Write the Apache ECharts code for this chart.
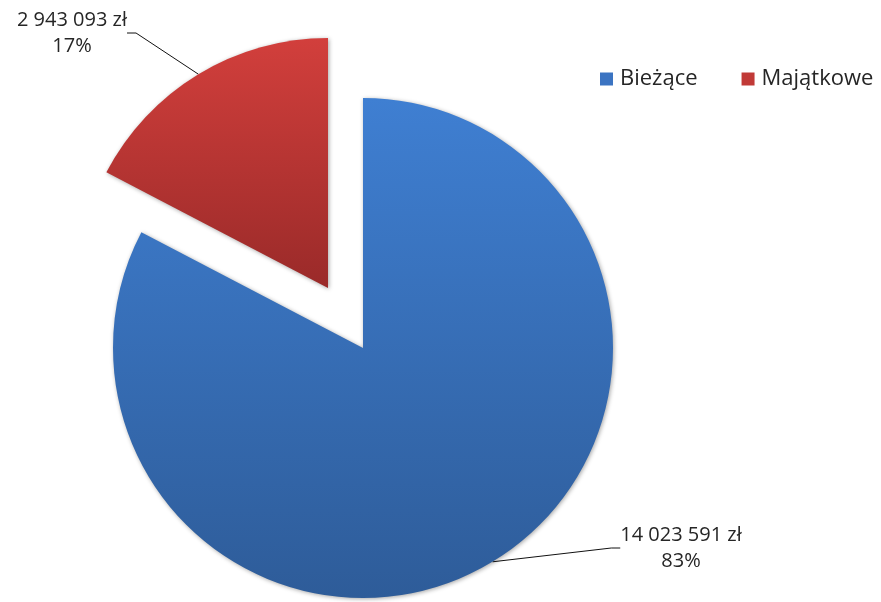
<!DOCTYPE html>
<html>
<head>
<meta charset="utf-8">
<script src="https://cdn.jsdelivr.net/npm/echarts@6/dist/echarts.min.js"></script>
<style>
html,body{margin:0;padding:0;background:#fff;}
#c{width:881px;height:602px;}
</style>
</head>
<body>
<div id="c"></div>
<script>
const categories = ['Bieżące', 'Majątkowe'];
const values = [14023591, 2943093];
const valueLabels = ['14 023 591 zł', '2 943 093 zł'];
const percentLabels = ['83%', '17%'];

const fills = [
  new echarts.graphic.LinearGradient(0, 0, 0, 1, [
    { offset: 0, color: '#3f7fd2' },
    { offset: 1, color: '#2e5c99' }
  ]),
  new echarts.graphic.LinearGradient(0, 0, 0, 1, [
    { offset: 0, color: '#d23f3c' },
    { offset: 1, color: '#9a2a29' }
  ])
];
const legendColors = ['#3b74c2', '#c13a37'];
const labelPos = [[681, 548], [72, 33]];
// explode offset for the second slice (drawn as its own pie layer)
const centers = [[363, 348], [328, 288]];

function layer(k) {
  return {
    type: 'pie',
    center: centers[k],
    radius: 250,
    startAngle: 90,
    clockwise: true,
    silent: true,
    emphasis: { disabled: true },
    label: {
      fontFamily: 'Open Sans',
      fontSize: 20,
      lineHeight: 26,
      color: '#262626',
      align: 'center',
      formatter: p => valueLabels[p.dataIndex] + '\n' + percentLabels[p.dataIndex]
    },
    labelLine: {
      length: 20,
      length2: 9,
      lineStyle: { color: '#111', width: 1 }
    },
    labelLayout: p => ({
      x: labelPos[p.dataIndex][0],
      y: labelPos[p.dataIndex][1],
      align: 'center',
      verticalAlign: 'middle'
    }),
    data: categories.map((c, i) => {
      const on = i === k;
      return {
        name: c,
        value: values[i],
        itemStyle: on
          ? { color: fills[i], shadowBlur: 4, shadowColor: 'rgba(0,0,0,0.35)', shadowOffsetX: 1, shadowOffsetY: 1 }
          : { color: 'rgba(0,0,0,0)' },
        label: { show: on, position: 'outside' },
        labelLine: { show: on }
      };
    })
  };
}

const chart = echarts.init(document.getElementById('c'));
chart.setOption({
  animation: false,
  legend: {
    data: categories.map((c, i) => ({ name: c, itemStyle: { color: legendColors[i] } })),
    top: 68,
    left: 600,
    width: 281,
    padding: 0,
    icon: 'rect',
    itemWidth: 13,
    itemHeight: 13,
    itemGap: 44,
    selectedMode: false,
    textStyle: { fontFamily: 'Open Sans', fontSize: 22, color: '#262626', padding: [0, 0, 0, 2] }
  },
  series: [layer(0), layer(1)]
});
</script>
</body>
</html>
